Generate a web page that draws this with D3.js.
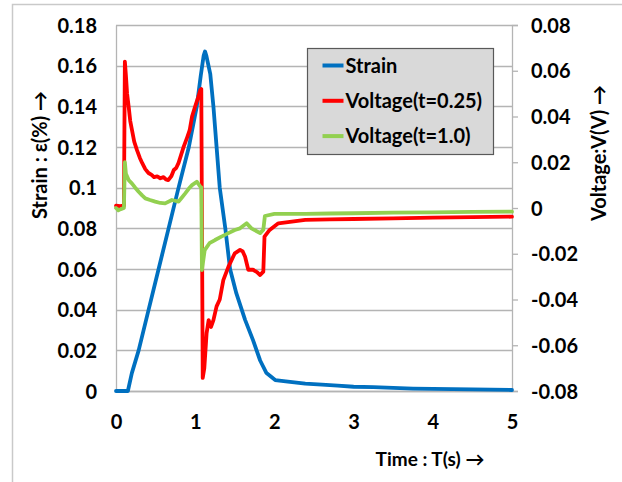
<!DOCTYPE html>
<html>
<head>
<meta charset="utf-8">
<script src="https://cdn.jsdelivr.net/npm/d3@7"></script>
<style>
  html, body { margin: 0; padding: 0; background: #fff; }
  svg { display: block; }
  text { font-family: Lato, "Open Sans", sans-serif; font-weight: 700; fill: #000; }
</style>
</head>
<body>
<div id="chart"></div>
<script>
// Strain / voltage vs time
const xTicks = [0, 1, 2, 3, 4, 5];
const strainTicks = [0, 0.02, 0.04, 0.06, 0.08, 0.1, 0.12, 0.14, 0.16, 0.18];
const voltTicks = [-0.08, -0.06, -0.04, -0.02, 0, 0.02, 0.04, 0.06, 0.08];

const strainT = [0, 0.15, 0.2, 0.286, 0.412, 0.538, 0.664, 0.79, 0.92, 1.02, 1.07, 1.107, 1.124, 1.14, 1.19, 1.23, 1.27, 1.31, 1.38, 1.44, 1.52, 1.63, 1.73, 1.82, 1.9, 2.01, 2.17, 2.39, 2.6, 2.8, 3.0, 3.25, 3.5, 3.75, 4.0, 4.5, 5.0];
const strainV = [0, 0, 0.0088, 0.02, 0.04, 0.06, 0.08, 0.1, 0.12, 0.14, 0.155, 0.165, 0.167, 0.165, 0.156, 0.14, 0.12, 0.1, 0.08, 0.06, 0.048, 0.035, 0.025, 0.015, 0.0088, 0.0054, 0.0046, 0.0036, 0.0031, 0.0026, 0.0021, 0.0019, 0.0015, 0.0012, 0.001, 0.0008, 0.0005];

const volt025T = [0, 0.05, 0.1, 0.112, 0.125, 0.14, 0.16, 0.18, 0.202, 0.23, 0.265, 0.3, 0.33, 0.37, 0.41, 0.45, 0.48, 0.52, 0.56, 0.6, 0.63, 0.66, 0.7, 0.73, 0.76, 0.79, 0.82, 0.855, 0.9, 0.93, 0.96, 1.0, 1.04, 1.065, 1.077, 1.095, 1.115, 1.144, 1.17, 1.2, 1.23, 1.27, 1.31, 1.355, 1.42, 1.5, 1.566, 1.6, 1.63, 1.67, 1.73, 1.78, 1.82, 1.86, 1.875, 1.94, 2.05, 2.22, 2.39, 2.7, 3.0, 3.5, 4.0, 4.5, 5.0];
const volt025V = [0.001, 0.0008, 0.001, 0.064, 0.058, 0.05, 0.0443, 0.038, 0.034, 0.029, 0.0253, 0.022, 0.0197, 0.017, 0.0153, 0.0145, 0.0135, 0.0138, 0.013, 0.0135, 0.0125, 0.0122, 0.014, 0.0166, 0.0175, 0.0197, 0.023, 0.0268, 0.031, 0.034, 0.04, 0.0445, 0.0487, 0.0516, 0.052, -0.0743, -0.07, -0.0547, -0.049, -0.052, -0.049, -0.043, -0.04, -0.0315, -0.0256, -0.0198, -0.0183, -0.019, -0.0213, -0.027, -0.027, -0.028, -0.0293, -0.0278, -0.0125, -0.0096, -0.0067, -0.006, -0.0052, -0.005, -0.0048, -0.0045, -0.0042, -0.004, -0.0038];

const volt10T = [0, 0.03, 0.06, 0.1, 0.112, 0.125, 0.16, 0.2, 0.24, 0.286, 0.33, 0.37, 0.43, 0.495, 0.56, 0.62, 0.706, 0.79, 0.83, 0.874, 0.92, 0.96, 1.02, 1.065, 1.077, 1.085, 1.12, 1.18, 1.25, 1.33, 1.42, 1.5, 1.566, 1.65, 1.71, 1.82, 1.86, 1.88, 2.0, 2.22, 2.39, 2.7, 3.0, 3.5, 4.0, 4.5, 5.0];
const volt10V = [0, -0.001, -0.0005, 0, 0.02, 0.015, 0.0122, 0.0108, 0.009, 0.0071, 0.0055, 0.0042, 0.0035, 0.0028, 0.0022, 0.002, 0.0035, 0.0028, 0.0045, 0.0064, 0.0085, 0.01, 0.0115, 0.0093, 0.009, -0.0271, -0.0184, -0.0154, -0.014, -0.0125, -0.011, -0.0096, -0.0089, -0.0067, -0.0089, -0.011, -0.0095, -0.0035, -0.0026, -0.0026, -0.0026, -0.0024, -0.0023, -0.002, -0.0019, -0.0017, -0.0016];

const seriesNames = ["Strain", "Voltage(t=0.25)", "Voltage(t=1.0)"];
const seriesColors = ["#0070c0", "#ff0000", "#92d050"];

const width = 622, height = 482;
const margin = { left: 116, right: 110, top: 25, bottom: 91 };

// Excel-style numbers: plain hyphen minus, no trailing zeros
const fmt = d => String(+d.toFixed(2));

const svg = d3.select("#chart").append("svg")
  .attr("width", width)
  .attr("height", height);

// outer chart border
svg.append("rect")
  .attr("x", 12.5)
  .attr("y", 4.5)
  .attr("width", 640)
  .attr("height", 500)
  .attr("fill", "none")
  .attr("stroke", "#c9c9c9")
  .attr("stroke-width", 1.5);

const x = d3.scaleLinear().domain([0, 5]).range([margin.left, width - margin.right]);
const yL = d3.scaleLinear().domain([0, 0.18]).range([height - margin.bottom, margin.top]);
const yR = d3.scaleLinear().domain([-0.08, 0.08]).range([height - margin.bottom, margin.top]);

// gridlines
svg.append("g")
  .selectAll("line")
  .data(strainTicks)
  .enter()
  .append("line")
  .attr("x1", x(0))
  .attr("x2", x(5))
  .attr("y1", d => Math.round(yL(d)) + 0.5)
  .attr("y2", d => Math.round(yL(d)) + 0.5)
  .attr("stroke", "#b4b4b4")
  .attr("stroke-width", 1.3);

// left axis (labels only)
const leftAxis = svg.append("g")
  .attr("transform", `translate(${x(0)},0)`)
  .call(d3.axisLeft(yL).tickValues(strainTicks).tickSize(0).tickPadding(19).tickFormat(fmt));
leftAxis.select(".domain").attr("stroke", "#b4b4b4").attr("stroke-width", 1.3);
leftAxis.selectAll("text").attr("font-size", 20).attr("font-family", null).attr("dy", "0.35em");

// right axis
const rightAxis = svg.append("g")
  .attr("transform", `translate(${x(5)},0)`)
  .call(d3.axisRight(yR).tickValues(voltTicks).tickSize(6).tickPadding(13).tickFormat(fmt));
rightAxis.select(".domain").attr("stroke", "#b4b4b4").attr("stroke-width", 1.3);
rightAxis.selectAll("line").attr("stroke", "#b4b4b4").attr("stroke-width", 1.3);
rightAxis.selectAll("text").attr("font-size", 20).attr("font-family", null).attr("dy", "0.35em");

// bottom axis
const bottomAxis = svg.append("g")
  .attr("transform", `translate(0,${yL(0)})`)
  .call(d3.axisBottom(x).tickValues(xTicks).tickSize(0).tickPadding(24).tickFormat(d3.format("d")));
bottomAxis.select(".domain").attr("stroke", "#b4b4b4").attr("stroke-width", 1.3);
bottomAxis.selectAll("text").attr("font-size", 20).attr("font-family", null);

// series lines
const strainLine = d3.line().x((d, i) => x(strainT[i])).y(d => yL(d));
const voltLine025 = d3.line().x((d, i) => x(volt025T[i])).y(d => yR(d));
const voltLine10 = d3.line().x((d, i) => x(volt10T[i])).y(d => yR(d));

const lines = [
  strainLine(strainV),
  voltLine025(volt025V),
  voltLine10(volt10V)
];

svg.append("g")
  .selectAll("path")
  .data(lines)
  .enter()
  .append("path")
  .attr("d", d => d)
  .attr("fill", "none")
  .attr("stroke", (d, i) => seriesColors[i])
  .attr("stroke-width", 3.8)
  .attr("stroke-linejoin", "round")
  .attr("stroke-linecap", "round");

// legend
const legend = svg.append("g").attr("transform", "translate(307.5,48.5)");
legend.append("rect")
  .attr("width", 186)
  .attr("height", 106)
  .attr("fill", "#d9d9d9")
  .attr("stroke", "#595959")
  .attr("stroke-width", 1.2);

const legendItems = legend.selectAll(".legend-item")
  .data(seriesNames)
  .enter()
  .append("g")
  .attr("class", "legend-item")
  .attr("transform", (d, i) => `translate(0, ${17 + i * 35.3})`);

legendItems.append("line")
  .attr("x1", 15)
  .attr("x2", 36)
  .attr("stroke", (d, i) => seriesColors[i])
  .attr("stroke-width", 4);

legendItems.append("text")
  .attr("x", 38)
  .attr("dy", "0.35em")
  .attr("font-size", 20)
  .text(d => d);

// axis titles
svg.append("text")
  .attr("transform", "translate(47,155) rotate(-90)")
  .attr("text-anchor", "middle")
  .attr("font-size", 20)
  .text("Strain : ε(%) →");

svg.append("text")
  .attr("transform", "translate(606,153) rotate(-90)")
  .attr("text-anchor", "middle")
  .attr("font-size", 20)
  .text("Voltage:V(V) →");

svg.append("text")
  .attr("x", 430)
  .attr("y", 466)
  .attr("text-anchor", "middle")
  .attr("font-size", 19)
  .text("Time : T(s) →");
</script>
</body>
</html>
